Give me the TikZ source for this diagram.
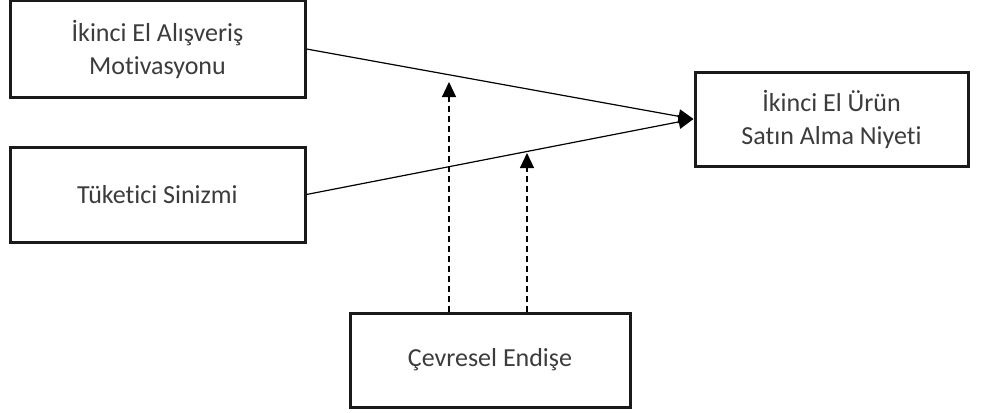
\documentclass[tikz,border=0pt]{standalone}
\usepackage{fontspec}
\setmainfont{Carlito}[Ligatures={NoCommon,NoRare,NoContextual}]
\usetikzlibrary{arrows.meta}
\definecolor{txt}{HTML}{3C3C3C}
\definecolor{edge}{HTML}{1A1A1A}
\begin{document}
\begin{tikzpicture}[x=1pt,y=-1pt,
  box/.style={draw=edge,line width=3pt,fill=white,align=center,text=txt,
    font=\fontsize{26}{33}\selectfont,inner sep=0pt},
  link/.style={draw=black,line width=1.2pt,-{Triangle[length=15pt,width=14pt]}},
  dlink/.style={link,dash pattern=on 6pt off 4pt}]
\useasboundingbox (0,0) rectangle (981,412);
\node[box,minimum width=295pt,minimum height=96pt] (b1) at (157.5,49) {İkinci El Alışveriş\\Motivasyonu};
\node[box,minimum width=295pt,minimum height=95pt] (b2) at (157.5,194.5) {Tüketici Sinizmi};
\node[box,minimum width=273pt,minimum height=94pt] (b3) at (831.5,119) {İkinci El Ürün\\Satın Alma Niyeti};
\node[box,minimum width=280pt,minimum height=94pt] (b4) at (490,360) {Çevresel Endişe};
\coordinate (m1) at (449,82);
\coordinate (m2) at (527,153);
\draw[link] (b1.east) -- (b3.west);
\draw[link] (b2.east) -- (b3.west);
\draw[dlink] (b4.north -| m1) -- (m1);
\draw[dlink] (b4.north -| m2) -- (m2);
\end{tikzpicture}
\end{document}
